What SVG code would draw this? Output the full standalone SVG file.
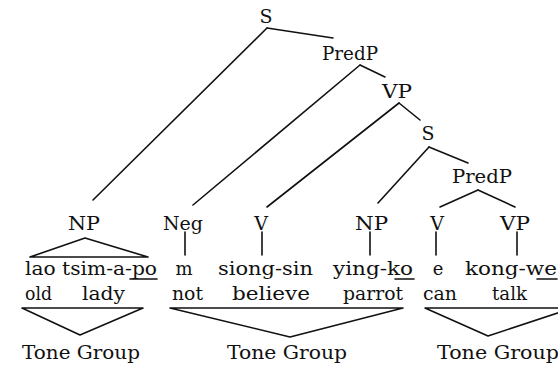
<svg xmlns="http://www.w3.org/2000/svg" width="558" height="365" viewBox="0 0 558 365">
<style>
text{font-family:"DejaVu Serif","Liberation Serif",serif;font-size:19px;fill:#111}
.w{font-size:18px}
line,polyline{stroke:#111;stroke-width:1.6;fill:none;stroke-linecap:round;stroke-linejoin:round}
</style>
<rect width="558" height="365" fill="#fff"/>
<g id="connectors">
<line x1="267" y1="28" x2="333" y2="38"/>
<line x1="267" y1="28" x2="93" y2="200"/>
<line x1="360" y1="65" x2="193" y2="205"/>
<line x1="360" y1="65" x2="385" y2="77"/>
<line x1="399" y1="103" x2="267" y2="207"/>
<line x1="399" y1="103" x2="420" y2="120"/>
<line x1="429" y1="147" x2="378" y2="203"/>
<line x1="429" y1="147" x2="468" y2="163"/>
<line x1="478" y1="190" x2="440" y2="207"/>
<line x1="478" y1="190" x2="515" y2="207"/>
<line x1="185" y1="232" x2="185" y2="255"/>
<line x1="262" y1="232" x2="262" y2="255"/>
<line x1="370" y1="232" x2="370" y2="255"/>
<line x1="436" y1="232" x2="436" y2="255"/>
<line x1="517" y1="232" x2="517" y2="255"/>
<polyline points="30,257 85,238 148,257 30,257"/>
<polyline points="22,308 80,335 143,308 22,308"/>
<polyline points="170,308 290,337 403,308 170,308"/>
<polyline points="600,299 488,336 425,308 600,308"/>
<line x1="130" y1="279" x2="157" y2="279"/>
<line x1="395" y1="279" x2="414" y2="279"/>
<line x1="537" y1="279" x2="557" y2="279"/>
</g>
<g id="S"><text x="266" y="23" text-anchor="middle">S</text></g>
<g id="PredP"><text x="322" y="60" textLength="56" lengthAdjust="spacingAndGlyphs">PredP</text></g>
<g id="VP"><text x="382" y="98" textLength="30" lengthAdjust="spacingAndGlyphs">VP</text></g>
<g id="S2"><text x="428" y="140" text-anchor="middle">S</text></g>
<g id="PredP2"><text x="452" y="183" textLength="60" lengthAdjust="spacingAndGlyphs">PredP</text></g>
<g id="NP"><text x="68" y="230" textLength="32" lengthAdjust="spacingAndGlyphs">NP</text></g>
<g id="Neg"><text x="163" y="230" textLength="40" lengthAdjust="spacingAndGlyphs">Neg</text></g>
<g id="V"><text x="261" y="230" text-anchor="middle">V</text></g>
<g id="NP2"><text x="355" y="230" textLength="33" lengthAdjust="spacingAndGlyphs">NP</text></g>
<g id="V2"><text x="437" y="230" text-anchor="middle">V</text></g>
<g id="VP2"><text x="500" y="230" textLength="30" lengthAdjust="spacingAndGlyphs">VP</text></g>
<g id="words">
<text class="w" x="25" y="275" textLength="132" lengthAdjust="spacingAndGlyphs">lao tsim-a-po</text>
<text class="w" x="184" y="275" text-anchor="middle">m</text>
<text class="w" x="218" y="275" textLength="95" lengthAdjust="spacingAndGlyphs">siong-sin</text>
<text class="w" x="333" y="275" textLength="80" lengthAdjust="spacingAndGlyphs">ying-ko</text>
<text class="w" x="438" y="275" text-anchor="middle">e</text>
<text class="w" x="465" y="275" textLength="92" lengthAdjust="spacingAndGlyphs">kong-we</text>
<text class="w" x="25" y="300" textLength="27" lengthAdjust="spacingAndGlyphs">old</text>
<text class="w" x="82" y="300" textLength="43" lengthAdjust="spacingAndGlyphs">lady</text>
<text class="w" x="172" y="300" textLength="31" lengthAdjust="spacingAndGlyphs">not</text>
<text class="w" x="232" y="300" textLength="78" lengthAdjust="spacingAndGlyphs">believe</text>
<text class="w" x="343" y="300" textLength="60" lengthAdjust="spacingAndGlyphs">parrot</text>
<text class="w" x="423" y="300" textLength="34" lengthAdjust="spacingAndGlyphs">can</text>
<text class="w" x="492" y="300" textLength="35" lengthAdjust="spacingAndGlyphs">talk</text>
</g>
<g id="tg1"><text x="22" y="359" textLength="118" lengthAdjust="spacingAndGlyphs">Tone Group</text></g>
<g id="tg2"><text x="227" y="359" textLength="120" lengthAdjust="spacingAndGlyphs">Tone Group</text></g>
<g id="tg3"><text x="437" y="359" textLength="122" lengthAdjust="spacingAndGlyphs">Tone Group</text></g>
</svg>
